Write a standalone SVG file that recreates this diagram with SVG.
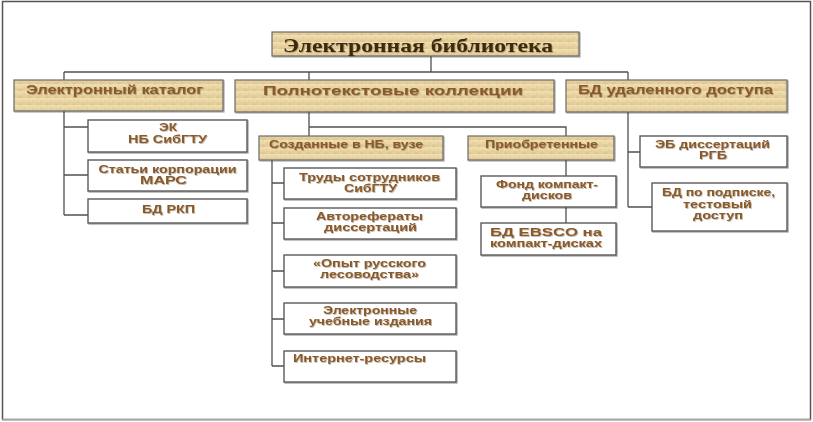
<svg xmlns="http://www.w3.org/2000/svg" width="813" height="422" viewBox="0 0 813 422">
<defs>
  <linearGradient id="parch" x1="0" y1="0" x2="0" y2="1">
    <stop offset="0" stop-color="#F1E2B6"/>
    <stop offset="0.5" stop-color="#E9D4A0"/>
    <stop offset="1" stop-color="#DEC58F"/>
  </linearGradient>
  <pattern id="tex" width="9" height="7" patternUnits="userSpaceOnUse">
    <rect width="9" height="7" fill="url(#parch)"/>
    <path d="M2 0v7M6 1v5" stroke="#D6BC85" stroke-width="0.6" opacity="0.5"/>
    <path d="M0 3h4M5 6h4" stroke="#F5E8C4" stroke-width="0.6" opacity="0.6"/>
  </pattern>
  <filter id="sh" x="-5%" y="-5%" width="115%" height="130%">
    <feDropShadow dx="1" dy="1" stdDeviation="0.6" flood-color="#000" flood-opacity="0.35"/>
  </filter>
  <filter id="tsh" x="-5%" y="-20%" width="110%" height="150%">
    <feDropShadow dx="0.8" dy="0.8" stdDeviation="0.4" flood-color="#6b5a3a" flood-opacity="0.5"/>
  </filter>
</defs>
<style>
  .p { fill: url(#tex); stroke: #6a6a6a; stroke-width: 1.2; filter: url(#sh); }
  .w { fill: #fff; stroke: #5a5a5a; stroke-width: 1.4; filter: url(#sh); }
  .t { font-family: "Liberation Sans", Arial, sans-serif; font-weight: bold; fill: #8A5A2A; filter: url(#tsh); }
  .l1 { font-size: 13px; }
  .l2 { font-size: 11.5px; text-anchor: middle; }
  .ttl { font-family: "Liberation Serif", "Times New Roman", serif; font-weight: bold; font-size: 18px; fill: #3E2A10; filter: url(#tsh); }
  .c { fill: none; stroke: #505050; stroke-width: 1.3; }
</style>
<rect x="0" y="0" width="813" height="422" fill="#fff"/>
<rect x="2.5" y="1.5" width="808" height="418" fill="none" stroke="#555" stroke-width="1.5"/>
<line x1="2" y1="420" x2="811" y2="420" stroke="#bdbdbd" stroke-width="1.5"/>

<g id="connectors" class="c">
  <path d="M431 56V72M64 72H628M64 72V80M309 72V80M628 72V80"/>
  <path d="M64 111V215M64 127H88M64 175H88M64 215H88"/>
  <path d="M309 112V127H566V136M309 127V136"/>
  <path d="M272 160V366M272 183H284M272 223H284M272 271H284M272 319H284M272 366H284"/>
  <path d="M566 160V176M566 207V223"/>
  <path d="M628 112V207M628 152H640M628 207H652"/>
</g>

<g id="n-root">
  <rect class="p" x="272" y="32" width="307" height="24"/>
  <text class="ttl" x="283" y="52" textLength="270" lengthAdjust="spacingAndGlyphs">Электронная библиотека</text>
</g>

<g id="n-catalog">
  <rect class="p" x="14" y="80" width="209" height="31"/>
  <text class="t l1" x="26" y="94" textLength="177" lengthAdjust="spacingAndGlyphs">Электронный каталог</text>
</g>
<g id="n-fulltext">
  <rect class="p" x="235" y="80" width="319" height="32"/>
  <text class="t l1" x="263" y="95" textLength="260" lengthAdjust="spacingAndGlyphs">Полнотекстовые коллекции</text>
</g>
<g id="n-remote">
  <rect class="p" x="566" y="80" width="221" height="32"/>
  <text class="t l1" x="578" y="94" textLength="195" lengthAdjust="spacingAndGlyphs">БД удаленного доступа</text>
</g>

<g id="n-ek">
  <rect class="w" x="88" y="120" width="159" height="32"/>
  <text class="t l2" x="168" y="131" textLength="18" lengthAdjust="spacingAndGlyphs">ЭК</text>
  <text class="t l2" x="167.5" y="143" textLength="79" lengthAdjust="spacingAndGlyphs">НБ СибГТУ</text>
</g>
<g id="n-mars">
  <rect class="w" x="88" y="160" width="159" height="31"/>
  <text class="t l2" x="167.5" y="173" textLength="138" lengthAdjust="spacingAndGlyphs">Статьи корпорации</text>
  <text class="t l2" x="163.5" y="184" textLength="47" lengthAdjust="spacingAndGlyphs">МАРС</text>
</g>
<g id="n-rkp">
  <rect class="w" x="88" y="199" width="159" height="24"/>
  <text class="t l2" x="168.5" y="213" textLength="53" lengthAdjust="spacingAndGlyphs">БД РКП</text>
</g>

<g id="n-created">
  <rect class="p" x="259" y="136" width="184" height="24"/>
  <text class="t" font-size="11.5" x="269" y="148" textLength="154" lengthAdjust="spacingAndGlyphs">Созданные в НБ, вузе</text>
</g>
<g id="n-bought">
  <rect class="p" x="468" y="136" width="146" height="24"/>
  <text class="t" font-size="11.5" x="485" y="148" textLength="113" lengthAdjust="spacingAndGlyphs">Приобретенные</text>
</g>

<g id="n-trudy">
  <rect class="w" x="284" y="168" width="172" height="31"/>
  <text class="t l2" x="369.5" y="181" textLength="141" lengthAdjust="spacingAndGlyphs">Труды сотрудников</text>
  <text class="t l2" x="370.5" y="192" textLength="53" lengthAdjust="spacingAndGlyphs">СибГТУ</text>
</g>
<g id="n-avtoref">
  <rect class="w" x="284" y="208" width="172" height="31"/>
  <text class="t l2" x="369.5" y="220" textLength="107" lengthAdjust="spacingAndGlyphs">Авторефераты</text>
  <text class="t l2" x="370.5" y="231" textLength="93" lengthAdjust="spacingAndGlyphs">диссертаций</text>
</g>
<g id="n-opyt">
  <rect class="w" x="284" y="255" width="172" height="32"/>
  <text class="t l2" x="369.5" y="267" textLength="113" lengthAdjust="spacingAndGlyphs">«Опыт русского</text>
  <text class="t l2" x="369.5" y="278" textLength="99" lengthAdjust="spacingAndGlyphs">лесоводства»</text>
</g>
<g id="n-ucheb">
  <rect class="w" x="284" y="303" width="172" height="31"/>
  <text class="t l2" x="370" y="314" textLength="94" lengthAdjust="spacingAndGlyphs">Электронные</text>
  <text class="t l2" x="370.5" y="325" textLength="123" lengthAdjust="spacingAndGlyphs">учебные издания</text>
</g>
<g id="n-internet">
  <rect class="w" x="284" y="351" width="172" height="31"/>
  <text class="t" font-size="11.5" x="293" y="362" textLength="133" lengthAdjust="spacingAndGlyphs">Интернет-ресурсы</text>
</g>

<g id="n-fond">
  <rect class="w" x="481" y="176" width="135" height="31"/>
  <text class="t l2" x="547" y="188" textLength="102" lengthAdjust="spacingAndGlyphs">Фонд компакт-</text>
  <text class="t l2" x="547" y="199" textLength="50" lengthAdjust="spacingAndGlyphs">дисков</text>
</g>
<g id="n-ebsco">
  <rect class="w" x="481" y="223" width="135" height="32"/>
  <text class="t l2" x="546" y="236" textLength="112" lengthAdjust="spacingAndGlyphs">БД EBSCO на</text>
  <text class="t l2" x="546" y="247" textLength="112" lengthAdjust="spacingAndGlyphs">компакт-дисках</text>
</g>

<g id="n-rgb">
  <rect class="w" x="640" y="136" width="147" height="31"/>
  <text class="t l2" x="712.5" y="148" textLength="115" lengthAdjust="spacingAndGlyphs">ЭБ диссертаций</text>
  <text class="t l2" x="713" y="159" textLength="28" lengthAdjust="spacingAndGlyphs">РГБ</text>
</g>
<g id="n-podpiska">
  <rect class="w" x="652" y="183" width="135" height="48"/>
  <text class="t l2" x="718.5" y="196" textLength="113" lengthAdjust="spacingAndGlyphs">БД по подписке,</text>
  <text class="t l2" x="717.5" y="208" textLength="69" lengthAdjust="spacingAndGlyphs">тестовый</text>
  <text class="t l2" x="718" y="219" textLength="50" lengthAdjust="spacingAndGlyphs">доступ</text>
</g>
</svg>
